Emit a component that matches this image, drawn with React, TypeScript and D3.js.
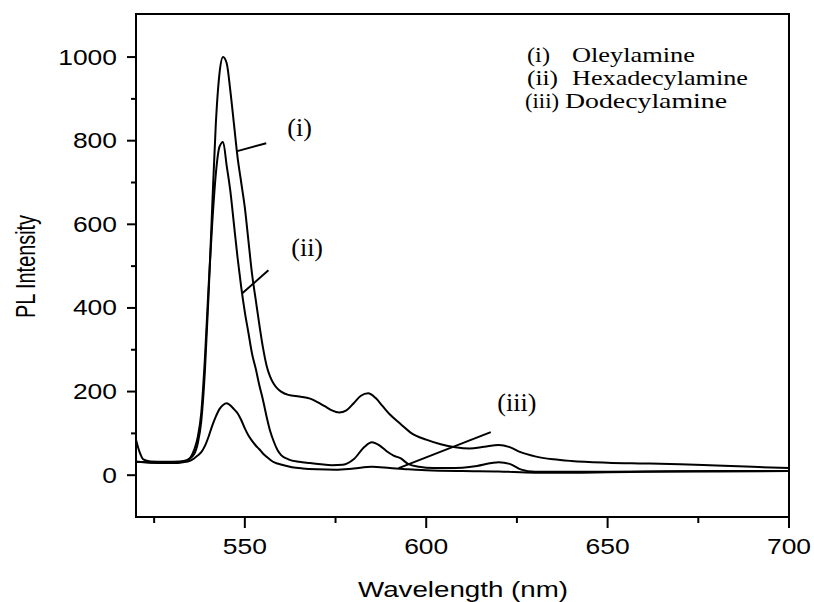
import React from "react";
import * as d3 from "d3";

// ---- Data ----
const wavelengthI = [520,521,522,524,528,532,534,536,537,538,539,540,541,542,543,544,545,546,547,548,549,550,551,552,553,554,555,556,557,558,559,560,562,565,568,570,572,574,576,578,580,582,584,586,588,590,593,596,600,604,608,612,616,620,623,626,630,635,640,650,660,670,680,690,700];
const intensityI = [85,55,38,33,32,33,36,50,75,130,250,430,640,840,960,1000,985,920,840,760,700,640,560,480,420,360,305,262,235,218,207,200,192,188,183,175,165,155,150,155,172,190,196,185,165,145,122,100,85,74,67,64,68,72,67,55,45,38,34,30,28,26,23,20,17];

const wavelengthII = [520,524,528,532,534,535,536,537,538,539,540,541,542,543,544,545,546,547,548,549,550,551,552,553,554,555,556,557,558,559,560,562,565,568,571,574,577,580,583,585,587,589,591,593,595,598,602,606,610,614,618,620,623,626,630,640,660,680,700];
const intensityII = [32,30,30,31,35,42,60,90,150,280,450,600,720,785,797,740,680,600,520,450,390,340,290,255,215,180,140,105,80,60,48,38,32,29,26,24,25,38,68,79,72,58,47,40,27,20,17,17,18,22,29,31,27,14,8,8,9,10,10];

const wavelengthIII = [520,525,530,533,535,536,537,538,539,540,541,542,543,544,545,546,547,548,549,550,551,552,553,554,555,556,557,558,559,561,563,566,570,575,580,585,590,595,600,610,620,630,640,650,660,680,700];
const intensityIII = [32,30,29,31,35,40,47,55,70,92,118,140,158,168,172,167,158,148,132,112,95,82,71,62,52,44,37,31,28,23,19,16,14,13,16,20,17,14,12,10,9,6,6,7,8,9,10];

const seriesTags = ["(i)", "(ii)", "(iii)"];
const seriesNames = ["Oleylamine", "Hexadecylamine", "Dodecylamine"];

const xMajorTicks = [550, 600, 650, 700];
const xMinorTicks = [525, 575, 625, 675];
const yMajorTicks = [0, 200, 400, 600, 800, 1000];
const yMinorTicks = [100, 300, 500, 700, 900];

// pointer annotations in data units: [fromX, fromY, toX, toY, labelX, labelY]
const annotationPointers = [
  [547.9, 775, 555.9, 794, 561.7, 811],
  [549.3, 435, 556.5, 490, 562.8, 524],
  [592.4, 17, 617.8, 103, 619.6, 154],
];

const legendTagX = [527, 527, 525];
const legendTagW = [23, 31, 34];
const legendNameX = [572, 572, 565];
const legendNameW = [123, 176, 162];

const W = 814, H = 602;
const left = 136, right = 789, top = 14, bottom = 517;

export default function App() {
  const x = d3.scaleLinear().domain([520, 700]).range([left, right]);
  const y = d3.scaleLinear().domain([-100, 1103]).range([bottom, top]);
  const line = d3
    .line<[number, number]>()
    .x((d) => x(d[0]))
    .y((d) => y(d[1]))
    .curve(d3.curveMonotoneX);

  const series = [
    d3.zip(wavelengthI, intensityI) as [number, number][],
    d3.zip(wavelengthII, intensityII) as [number, number][],
    d3.zip(wavelengthIII, intensityIII) as [number, number][],
  ];

  const sans = "Arial, 'Liberation Sans', sans-serif";
  const serif = "'Times New Roman', 'Liberation Serif', serif";
  const digitW = 14.7;

  return (
    <svg
      width={W}
      height={H}
      style={{ position: "absolute", left: 0, top: 0, background: "#fff" }}
    >
      <rect x={0} y={0} width={W} height={H} fill="#fff" />
      <defs>
        <clipPath id="plot">
          <rect x={left} y={top} width={right - left} height={bottom - top} />
        </clipPath>
      </defs>

      {/* curves */}
      <g clipPath="url(#plot)">
        {series.map((s, i) => (
          <path
            key={i}
            d={line(s) || ""}
            fill="none"
            stroke="#000"
            strokeWidth={2}
            strokeLinejoin="round"
          />
        ))}
      </g>

      {/* frame */}
      <rect
        x={left}
        y={top}
        width={right - left}
        height={bottom - top}
        fill="none"
        stroke="#000"
        strokeWidth={2}
      />

      {/* y ticks */}
      {yMajorTicks.map((t) => (
        <g key={"ym" + t}>
          <line x1={left - 9} x2={left} y1={y(t)} y2={y(t)} stroke="#000" strokeWidth={2} />
          <text
            x={117}
            y={y(t) + 7.5}
            textAnchor="end"
            fontFamily={sans}
            fontSize={22}
            textLength={String(t).length * digitW}
            lengthAdjust="spacingAndGlyphs"
          >
            {t}
          </text>
        </g>
      ))}
      {yMinorTicks.map((t) => (
        <line key={"yn" + t} x1={left - 5} x2={left} y1={y(t)} y2={y(t)} stroke="#000" strokeWidth={2} />
      ))}

      {/* x ticks */}
      {xMajorTicks.map((t) => (
        <g key={"xm" + t}>
          <line x1={x(t)} x2={x(t)} y1={bottom} y2={bottom + 11} stroke="#000" strokeWidth={2} />
          <text
            x={x(t)}
            y={554}
            textAnchor="middle"
            fontFamily={sans}
            fontSize={22}
            textLength={String(t).length * digitW}
            lengthAdjust="spacingAndGlyphs"
          >
            {t}
          </text>
        </g>
      ))}
      {xMinorTicks.map((t) => (
        <line key={"xn" + t} x1={x(t)} x2={x(t)} y1={bottom} y2={bottom + 6} stroke="#000" strokeWidth={2} />
      ))}

      {/* axis titles */}
      <text
        x={358}
        y={597}
        fontFamily={sans}
        fontSize={22}
        textLength={210}
        lengthAdjust="spacingAndGlyphs"
      >
        Wavelength (nm)
      </text>
      <text
        transform="translate(35,266.5) rotate(-90)"
        textAnchor="middle"
        fontFamily={sans}
        fontSize={27}
        textLength={103}
        lengthAdjust="spacingAndGlyphs"
      >
        PL Intensity
      </text>

      {/* legend */}
      {seriesTags.map((tag, i) => (
        <g key={"lg" + i}>
          <text
            x={legendTagX[i]}
            y={62 + i * 23}
            fontFamily={serif}
            fontSize={21}
            textLength={legendTagW[i]}
            lengthAdjust="spacingAndGlyphs"
          >
            {tag}
          </text>
          <text
            x={legendNameX[i]}
            y={62 + i * 23}
            fontFamily={serif}
            fontSize={21}
            textLength={legendNameW[i]}
            lengthAdjust="spacingAndGlyphs"
          >
            {seriesNames[i]}
          </text>
        </g>
      ))}

      {/* annotations */}
      {annotationPointers.map((a, i) => (
        <g key={"an" + i}>
          <line x1={x(a[0])} y1={y(a[1])} x2={x(a[2])} y2={y(a[3])} stroke="#000" strokeWidth={2} />
          <text x={x(a[4])} y={y(a[5])} fontFamily={serif} fontSize={26}>
            {seriesTags[i]}
          </text>
        </g>
      ))}
    </svg>
  );
}
